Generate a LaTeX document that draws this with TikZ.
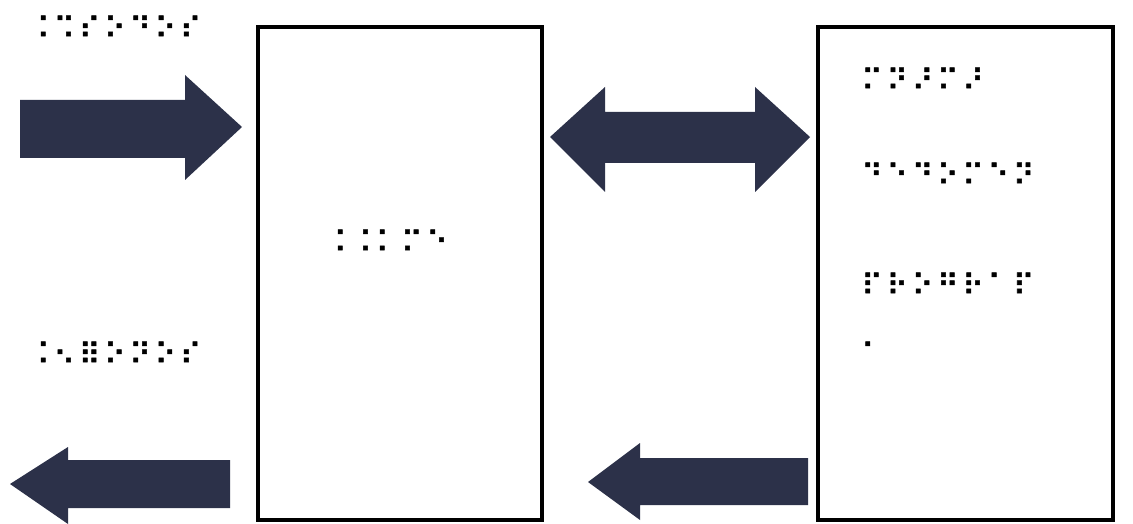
\documentclass[tikz,border=0pt]{standalone}
\usepackage{fontspec}
\newfontfamily\brlfont[FakeBold=1.8,LetterSpace=13]{DejaVu Sans}
\definecolor{arrowc}{HTML}{2C3149}
\begin{document}
\begin{tikzpicture}[x=0.75pt,y=-0.75pt,
  arrowshape/.style={fill=arrowc,draw=none},
  panel/.style={draw=black,line width=3pt,fill=white},
  brl/.style={font=\brlfont\fontsize{22}{24}\selectfont,anchor=west,inner sep=0pt,text=black}]
\useasboundingbox (0,0) rectangle (1133,524);
\fill[white] (0,0) rectangle (1133,524);
% panels
\draw[panel] (258,27) rectangle (542,520);
\draw[panel] (818,27) rectangle (1113,520);
% arrows
\fill[arrowshape] (20,100) -- (185,100) -- (185,75) -- (242,127) -- (185,180) -- (185,158) -- (20,158) -- cycle;
\fill[arrowshape] (550,137) -- (605,87) -- (605,112) -- (755,112) -- (755,87) -- (810,137) -- (755,192) -- (755,163) -- (605,163) -- (605,192) -- cycle;
\fill[arrowshape] (10,484) -- (68,447) -- (68,460) -- (230,460) -- (230,508) -- (68,508) -- (68,524) -- cycle;
\fill[arrowshape] (588,482) -- (640,443) -- (640,458) -- (808,458) -- (808,505) -- (640,505) -- (640,520) -- cycle;
% texts
\node[brl] (t1) at (28,27) {⠨⠩⠎⠕⠙⠕⠎};
\node[brl] (t2) at (325,241) {⠨⠨⠅⠍⠑};
\node[brl] (t3) at (28,353) {⠨⠢⠿⠕⠝⠕⠎};
\node[brl] (t4) at (861,79) {⠍⠝⠜⠍⠜};
\node[brl] (t5) at (861,174) {⠙⠑⠙⠕⠍⠑⠝};
\node[brl] (t6) at (861,284) {⠏⠗⠕⠛⠗⠁⠏};
\node[brl] (t7) at (861,353) {⠁};
\end{tikzpicture}
\end{document}
